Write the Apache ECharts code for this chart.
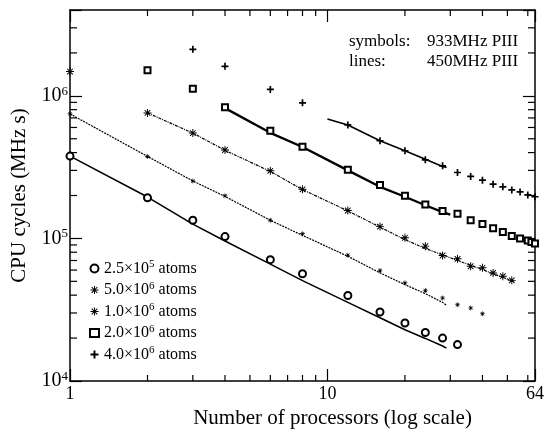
<!DOCTYPE html>
<html>
<head>
<meta charset="utf-8">
<script src="https://cdn.jsdelivr.net/npm/echarts@6/dist/echarts.min.js"></script>
<style>
  html, body { margin: 0; padding: 0; background: #fff; }
  #chart { width: 547px; height: 435px; }
</style>
</head>
<body>
<div id="chart"></div>
<script>
// processor counts and CPU cycles
// symbols = 933MHz PIII, lines = 450MHz PIII
const nSym1 = [1, 2, 3, 4, 6, 8, 12, 16, 20, 24, 28, 32];
const sym1 = [3.78e5, 1.93e5, 1.34e5, 1.03e5, 7.1e4, 5.65e4, 3.98e4, 3.05e4, 2.55e4, 2.19e4, 2.0e4, 1.8e4];
const nLine1 = [1, 2, 3, 4, 6, 8, 12, 16, 20, 24, 28, 29];
const line1 = [3.78e5, 1.95e5, 1.26e5, 9.6e4, 6.6e4, 5.06e4, 3.56e4, 2.78e4, 2.29e4, 1.99e4, 1.76e4, 1.7e4];

const nSym2 = [1, 2, 3, 4, 6, 8, 12, 16, 20, 24, 28, 32, 36, 40];
const sym2 = [7.47e5, 3.76e5, 2.53e5, 1.99e5, 1.34e5, 1.08e5, 7.62e4, 5.96e4, 4.88e4, 4.31e4, 3.82e4, 3.43e4, 3.25e4, 2.96e4];
const nLine2 = [1, 2, 3, 4, 6, 8, 12, 16, 20, 24, 28, 29];
const line2 = [7.47e5, 3.76e5, 2.53e5, 1.97e5, 1.34e5, 1.05e5, 7.5e4, 5.73e4, 4.74e4, 4.1e4, 3.56e4, 3.4e4];

const nSym3 = [1, 2, 3, 4, 6, 8, 12, 16, 20, 24, 28, 32, 36, 40, 44, 48, 52];
const sym3 = [1.48e6, 7.59e5, 5.48e5, 4.17e5, 2.98e5, 2.21e5, 1.57e5, 1.21e5, 1.01e5, 8.83e4, 7.59e4, 7.19e4, 6.38e4, 6.22e4, 5.73e4, 5.43e4, 5.08e4];
const nLine3 = [2, 3, 4, 6, 8, 12, 16, 20, 24, 28, 32, 36, 40, 44, 48, 53];
const line3 = [7.59e5, 5.48e5, 4.15e5, 2.95e5, 2.2e5, 1.56e5, 1.2e5, 9.8e4, 8.5e4, 7.67e4, 7.0e4, 6.48e4, 6.04e4, 5.65e4, 5.33e4, 5.0e4];

const nSym4 = [2, 3, 4, 6, 8, 12, 16, 20, 24, 28, 32, 36, 40, 44, 48, 52, 56, 60, 62, 64];
const sym4 = [1.51e6, 1.12e6, 8.32e5, 5.7e5, 4.4e5, 3.03e5, 2.37e5, 1.99e5, 1.73e5, 1.56e5, 1.49e5, 1.34e5, 1.26e5, 1.18e5, 1.11e5, 1.04e5, 1.0e5, 9.68e4, 9.42e4, 9.22e4];
const nLine4 = [4, 6, 8, 12, 16, 20, 24, 28, 30];
const line4 = [8.2e5, 5.5e5, 4.38e5, 3.0e5, 2.3e5, 1.96e5, 1.71e5, 1.53e5, 1.47e5];

const nSym5 = [3, 4, 6, 8, 12, 16, 20, 24, 28, 32, 36, 40, 44, 48, 52, 56, 60, 64];
const sym5 = [2.12e6, 1.61e6, 1.11e6, 8.93e5, 6.25e5, 4.84e5, 4.12e5, 3.56e5, 3.23e5, 2.9e5, 2.72e5, 2.56e5, 2.4e5, 2.3e5, 2.19e5, 2.12e5, 2.02e5, 1.96e5];
const nLine5 = [10, 12, 16, 20, 24, 28, 29];
const line5 = [6.89e5, 6.25e5, 4.84e5, 4.12e5, 3.59e5, 3.2e5, 3.15e5];

const legendNames = ['2.5×10^5 atoms', '5.0×10^6 atoms', '1.0×10^6 atoms', '2.0×10^6 atoms', '4.0×10^6 atoms'];

// minor log ticks
const xMinor = [2, 3, 4, 5, 6, 7, 8, 9, 20, 30, 40, 50, 60];
const yMinor = [2e4, 3e4, 4e4, 5e4, 6e4, 7e4, 8e4, 9e4, 2e5, 3e5, 4e5, 5e5, 6e5, 7e5, 8e5, 9e5, 2e6, 3e6];

const font = '"Liberation Serif", "DejaVu Serif", serif';

const asteriskPath = 'path://M0,4.4L10,4.4L10,5.6L0,5.6Z M4.4,0L5.6,0L5.6,10L4.4,10Z' +
  ' M1.92,1.08L8.92,8.08L8.08,8.92L1.08,1.92Z M8.08,1.08L8.92,1.92L1.92,8.92L1.08,8.08Z';
const plusPath = 'path://M3.8,0L6.2,0L6.2,3.8L10,3.8L10,6.2L6.2,6.2L6.2,10L3.8,10L3.8,6.2L0,6.2L0,3.8L3.8,3.8Z';

const pairs = (xs, ys) => xs.map((x, i) => [x, ys[i]]);

const chart = echarts.init(document.getElementById('chart'));

const axisCommon = {
  type: 'log',
  logBase: 10,
  axisLine: { show: true, onZero: false, lineStyle: { color: '#000', width: 1.5 } },
  axisTick: { inside: true, length: 12, lineStyle: { color: '#000', width: 1.2 } },
  splitLine: { show: false }
};

const lineSeries = (name, xs, ys, style) => ({
  name: name,
  type: 'line',
  data: pairs(xs, ys),
  symbol: 'none',
  lineStyle: Object.assign({ color: '#000' }, style),
  z: 2
});

const symSeries = (name, xs, ys, symbol, size, border) => ({
  name: name,
  type: 'scatter',
  data: pairs(xs, ys),
  symbol: symbol,
  symbolSize: size,
  itemStyle: { color: '#000', borderColor: '#000', borderWidth: border || 0, opacity: 1 },
  z: 3
});

const option = {
  animation: false,
  backgroundColor: '#fff',
  textStyle: { fontFamily: font },
  grid: { left: 70, right: 10, top: 10, bottom: 54 },
  xAxis: [
    Object.assign({}, axisCommon, {
      min: 1, max: 64,
      position: 'bottom',
      name: 'Number of processors (log scale)',
      nameLocation: 'middle',
      nameGap: 27,
      nameTextStyle: { fontFamily: font, fontSize: 21, color: '#000', padding: [0, 0, 0, 60] },
      axisLabel: {
        fontFamily: font, fontSize: 18, color: '#000', margin: 4,
        formatter: v => String(Math.round(v))
      }
    }),
    Object.assign({}, axisCommon, {
      min: 1, max: 64, position: 'top', axisLabel: { show: false }
    })
  ],
  yAxis: [
    Object.assign({}, axisCommon, {
      min: 1e4, max: 4e6,
      position: 'left',
      name: 'CPU cycles (MHz s)',
      nameLocation: 'middle',
      nameGap: 40,
      nameTextStyle: { fontFamily: font, fontSize: 21, color: '#000' },
      axisLabel: {
        fontFamily: font, fontSize: 20, color: '#000', margin: 2,
        formatter: v => {
          const e = Math.round(Math.log10(v));
          return Math.abs(v - Math.pow(10, e)) < 1e-6 * v ? '10{sup|' + e + '}' : '';
        },
        rich: { sup: { fontFamily: font, fontSize: 13, color: '#000', padding: [0, 0, 9, 0] } }
      }
    }),
    Object.assign({}, axisCommon, {
      min: 1e4, max: 4e6, position: 'right', axisLabel: { show: false }
    })
  ],
  legend: {
    orient: 'vertical',
    left: 84,
    top: 254,
    itemWidth: 9,
    itemHeight: 8,
    itemGap: 4,
    data: legendNames,
    textStyle: {
      fontFamily: font, fontSize: 16, color: '#000',
      rich: { sup: { fontFamily: font, fontSize: 11, color: '#000', padding: [0, 0, 8, 0] } }
    },
    formatter: name => name.replace(/\^(\d)/, '{sup|$1}')
  },
  graphic: [
    { type: 'text', left: 349, top: 33, style: { text: 'symbols:', font: '17px ' + font, fill: '#000' } },
    { type: 'text', left: 427, top: 33, style: { text: '933MHz PIII', font: '17px ' + font, fill: '#000' } },
    { type: 'text', left: 349, top: 53, style: { text: 'lines:', font: '17px ' + font, fill: '#000' } },
    { type: 'text', left: 427, top: 53, style: { text: '450MHz PIII', font: '17px ' + font, fill: '#000' } }
  ],
  series: [
    lineSeries('450 2.5', nLine1, line1, { width: 1.6, type: 'solid' }),
    lineSeries('450 5.0', nLine2, line2, { width: 1.2, type: [2, 1] }),
    lineSeries('450 1.0', nLine3, line3, { width: 1.2, type: [3, 1, 1, 1] }),
    lineSeries('450 2.0', nLine4, line4, { width: 2.3, type: 'solid' }),
    lineSeries('450 4.0', nLine5, line5, { width: 1.6, type: 'solid' }),
    symSeries(legendNames[0], nSym1, sym1, 'emptyCircle', 7, 1.6),
    symSeries(legendNames[1], nSym2, sym2, asteriskPath, 5),
    symSeries(legendNames[2], nSym3, sym3, asteriskPath, 8),
    symSeries(legendNames[3], nSym4, sym4, 'emptyRect', 6, 2),
    symSeries(legendNames[4], nSym5, sym5, plusPath, 7),
    {
      name: 'xminor',
      type: 'custom',
      silent: true,
      data: xMinor.map(v => [v, 1e4]),
      renderItem: (params, api) => {
        const cs = params.coordSys;
        const px = api.coord([api.value(0), api.value(1)])[0];
        const st = { stroke: '#000', lineWidth: 1.2 };
        return {
          type: 'group',
          children: [
            { type: 'line', shape: { x1: px, y1: cs.y + cs.height, x2: px, y2: cs.y + cs.height - 6 }, style: st },
            { type: 'line', shape: { x1: px, y1: cs.y, x2: px, y2: cs.y + 6 }, style: st }
          ]
        };
      }
    },
    {
      name: 'yminor',
      type: 'custom',
      silent: true,
      data: yMinor.map(v => [1, v]),
      renderItem: (params, api) => {
        const cs = params.coordSys;
        const py = api.coord([api.value(0), api.value(1)])[1];
        const st = { stroke: '#000', lineWidth: 1.2 };
        return {
          type: 'group',
          children: [
            { type: 'line', shape: { x1: cs.x, y1: py, x2: cs.x + 7, y2: py }, style: st },
            { type: 'line', shape: { x1: cs.x + cs.width, y1: py, x2: cs.x + cs.width - 7, y2: py }, style: st }
          ]
        };
      }
    }
  ]
};

chart.setOption(option);
</script>
</body>
</html>
